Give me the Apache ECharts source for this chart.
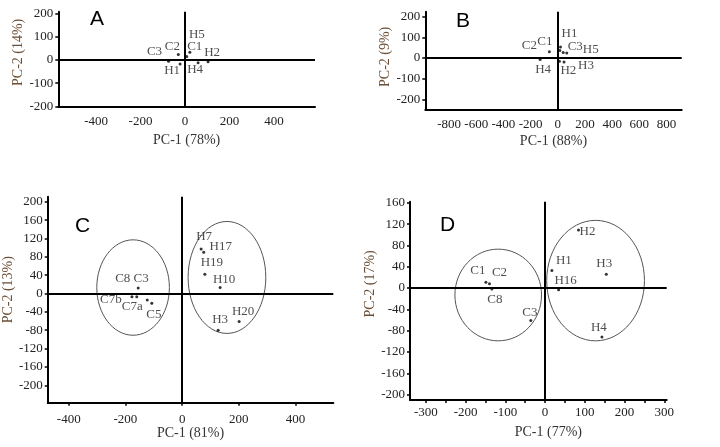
<!DOCTYPE html>
<html>
<head>
<meta charset="utf-8">
<script src="https://cdn.jsdelivr.net/npm/echarts@6/dist/echarts.min.js"></script>
<style>html,body{margin:0;padding:0;background:#fff}#c{width:720px;height:447px}</style>
</head>
<body>
<div id="c"></div>
<script>
// ---------- DATA ----------
// Panel A
const A_names = ['C1','C2','C3','H1','H2','H4','H5'];
const A_x = [8, -30, -74, -22, 104, 59, 22];
const A_y = [15, 23, -6, -17, -8, -12, 33];
// Panel B
const B_names = ['C1','C2','C3','H1','H2','H3','H4','H5'];
const B_x = [15, -62, 40, 20, 12, 46, -130, 66];
const B_y = [36, 30, 27, 53, -16, -19, -8, 24];
// Panel C
const C_names = ['C3','C8','C7b','C7a','C5','H7','H17','H19','H10','H3','H20'];
const C_x = [-155, -160, -177, -123, -107, 67, 76, 80, 134, 127, 201];
const C_y = [12, -7, -7, -14, -21, 97, 90, 42, 13, -80, -61];
// cluster ellipses C: [centerX, centerY, radiusX, radiusY]
const C_ellipses = [[-173, 13, 128, 104], [158, 35, 137, 122]];
// Panel D
const D_names = ['C1','C2','C8','C3','H1','H2','H3','H16','H4'];
const D_x = [-149, -140, -134, -36, 17, 84, 154, 34, 143];
const D_y = [11, 8, -2, -61, 33, 109, 26, -3, -92];
const D_ellipses = [[-118, -13, 109, 86], [127, 14, 123, 113]];

// tick labels
const A_xTicks = [-400, -200, 0, 200, 400];
const A_yTicks = [-200, -100, 0, 100, 200];
const B_xTicks = [-800, -600, -400, -200, 0, 200, 400, 600, 800];
const B_yTicks = [-200, -100, 0, 100, 200];
const C_xTicks = [-400, -200, 0, 200, 400];
const C_yTicks = [-200, -160, -120, -80, -40, 0, 40, 80, 120, 160, 200];
const D_xTicks = [-300, -200, -100, 0, 100, 200, 300];
const D_xMinorTicks = [-300, -250, -200, -150, -100, -50, 0, 50, 100, 150, 200, 250, 300];
const D_yTicks = [-200, -160, -120, -80, -40, 0, 40, 80, 120, 160];

const axisNames = {
  A: ['PC-1 (78%)', 'PC-2 (14%)'],
  B: ['PC-1 (88%)', 'PC-2 (9%)'],
  C: ['PC-1 (81%)', 'PC-2 (13%)'],
  D: ['PC-1 (77%)', 'PC-2 (17%)']
};

// ---------- STYLE (label offsets in px, not data) ----------
const A_lblOff = [[8,-10],[-6,-8],[-14,-10],[-8,7],[4,-9],[-3,7],[7,-18]];
const B_lblOff = [[-15,-9],[-20,-6],[12,-6],[9,-13],[9,9],[22,4],[3,10],[24,-3]];
const C_lblOff = [[3,-9],[-14,-18],[-21,3],[-15,7],[2,11],[3,-12],[17,-6],[7,-12],[4,-8],[2,-11],[4,-10]];
const D_lblOff = [[-8,-12],[10,-11],[3,10],[-1,-8],[12,-10],[9,2],[-2,-11],[7,-9],[-3,-10]];

const SERIF = 'Liberation Serif, Times New Roman, serif';
const SANS = '21px Liberation Sans, Arial, sans-serif';

function pts(names, xs, ys, offs) {
  return names.map((n, i) => ({
    name: n, value: [xs[i], ys[i]],
    label: { offset: offs[i] }
  }));
}

const grids = [
  { left: 58.3, top: 11.7, width: 256.7, height: 95.3 },
  { left: 425.3, top: 11.7, width: 256.4, height: 98.3 },
  { left: 41.7, top: 196.7, width: 291.6, height: 206 },
  { left: 410, top: 201.7, width: 256.7, height: 198.3 }
];

function xAxis(idx, min, max, labels, ticks, showTick, name, gap, margin, namePad) {
  return {
    type: 'value', gridIndex: idx, min: min, max: max,
    name: name, nameLocation: 'middle', nameGap: gap,
    nameTextStyle: { fontFamily: SERIF, fontSize: 14, color: '#333', padding: namePad || 0 },
    axisLine: { show: true, onZero: false, lineStyle: { color: '#000', width: 2 } },
    axisTick: { show: showTick, customValues: ticks, length: 3, lineStyle: { color: '#000', width: 1.5 } },
    axisLabel: { customValues: labels, fontFamily: SERIF, fontSize: 13, color: '#222', margin: margin },
    splitLine: { show: false }
  };
}
function yAxis(idx, min, max, labels, name, gap, namePad) {
  return {
    type: 'value', gridIndex: idx, min: min, max: max,
    name: name, nameLocation: 'middle', nameGap: gap, nameRotate: 90,
    nameTextStyle: { fontFamily: SERIF, fontSize: 14, color: '#6b4f36', padding: namePad || 0 },
    axisLine: { show: true, onZero: false, lineStyle: { color: '#000', width: 2 } },
    axisTick: { show: true, customValues: labels, length: 3, lineStyle: { color: '#000', width: 1.5 } },
    axisLabel: { customValues: labels, fontFamily: SERIF, fontSize: 13, color: '#222', margin: 5 },
    splitLine: { show: false }
  };
}

function scatter(idx, data) {
  return {
    type: 'scatter', xAxisIndex: idx, yAxisIndex: idx, data: data,
    symbol: 'circle', symbolSize: 3, itemStyle: { color: '#000' },
    label: { show: true, position: 'inside', formatter: '{b}', fontFamily: SERIF, fontSize: 13, color: '#222' },
    markLine: {
      silent: true, symbol: 'none', animation: false,
      label: { show: false },
      lineStyle: { color: '#000', width: 2, type: 'solid' },
      data: [{ xAxis: 0 }, { yAxis: 0 }]
    },
    z: 3
  };
}

function ellipses(idx, data) {
  return {
    type: 'custom', xAxisIndex: idx, yAxisIndex: idx, data: data, silent: true, z: 1,
    encode: { x: 0, y: 1 },
    renderItem: function (params, api) {
      const c = api.coord([api.value(0), api.value(1)]);
      const p = api.coord([api.value(0) + api.value(2), api.value(1) + api.value(3)]);
      return {
        type: 'ellipse',
        shape: { cx: c[0], cy: c[1], rx: Math.abs(p[0] - c[0]), ry: Math.abs(p[1] - c[1]) },
        style: { fill: 'none', stroke: '#555', lineWidth: 1 }
      };
    }
  };
}

const chart = echarts.init(document.getElementById('c'), null, { renderer: 'canvas' });
chart.setOption({
  animation: false,
  backgroundColor: '#fff',
  grid: grids,
  xAxis: [
    xAxis(0, -570, 585, A_xTicks, A_xTicks, false, axisNames.A[0], 26, 8),
    xAxis(1, -975, 912, B_xTicks, B_xTicks, false, axisNames.B[0], 24, 8),
    xAxis(2, -474, 533, C_xTicks, C_xTicks, true, axisNames.C[0], 21, 10),
    xAxis(3, -340, 306, D_xTicks, D_xMinorTicks, true, axisNames.D[0], 25, 6, [0, 0, 0, 20])
  ],
  yAxis: [
    yAxis(0, -202, 207, A_yTicks, axisNames.A[1], 33, [0, 0, 0, 14]),
    yAxis(1, -252, 224, B_yTicks, axisNames.B[1], 31, [0, 0, 0, 8]),
    yAxis(2, -238, 211, C_yTicks, axisNames.C[1], 28, [0, 0, 0, 20]),
    yAxis(3, -210, 162, D_yTicks, axisNames.D[1], 33, [0, 0, 0, 34])
  ],
  graphic: [
    { type: 'text', left: 90, top: 9, style: { text: 'A', font: SANS, fill: '#000' } },
    { type: 'text', left: 456, top: 11, style: { text: 'B', font: SANS, fill: '#000' } },
    { type: 'text', left: 75, top: 216, style: { text: 'C', font: SANS, fill: '#000' } },
    { type: 'text', left: 440, top: 215, style: { text: 'D', font: SANS, fill: '#000' } }
  ],
  series: [
    scatter(0, pts(A_names, A_x, A_y, A_lblOff)),
    scatter(1, pts(B_names, B_x, B_y, B_lblOff)),
    scatter(2, pts(C_names, C_x, C_y, C_lblOff)),
    scatter(3, pts(D_names, D_x, D_y, D_lblOff)),
    ellipses(2, C_ellipses),
    ellipses(3, D_ellipses)
  ]
});
</script>
</body>
</html>
